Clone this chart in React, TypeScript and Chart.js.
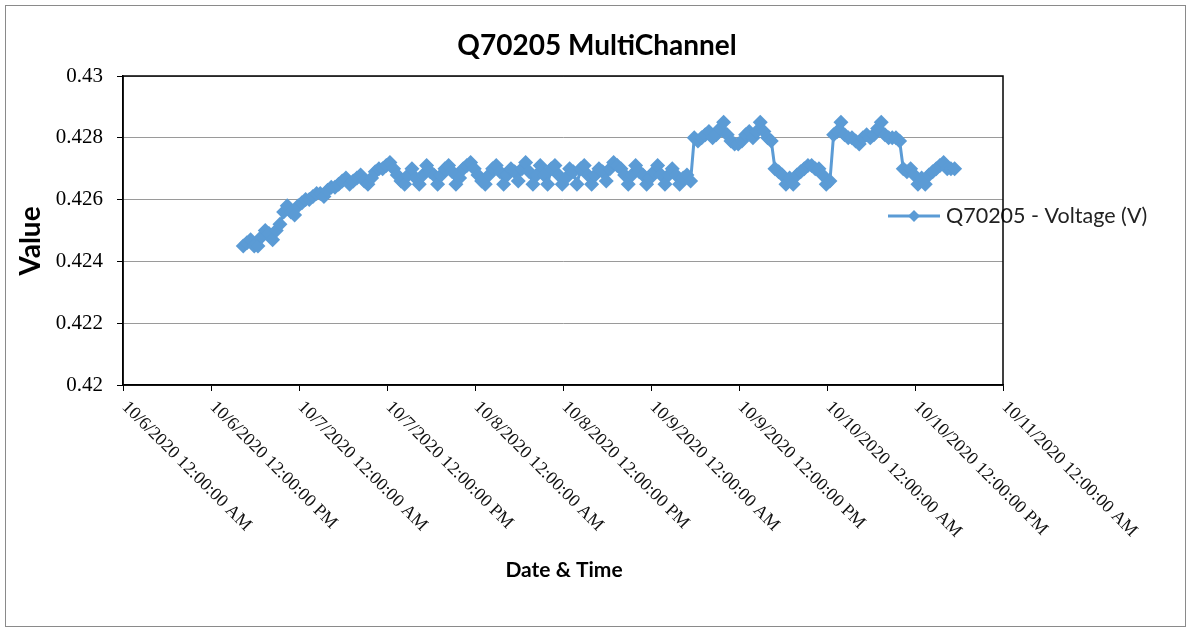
import React, { useEffect, useRef } from "react";
import { Chart, registerables } from "chart.js";

Chart.register(...registerables);

const chartTitle = "Q70205 MultiChannel";
const seriesName = "Q70205 - Voltage (V)";
const xAxisTitle = "Date & Time";
const yAxisTitle = "Value";

// x ticks: hours since 10/6/2020 12:00:00 AM, every 12 h
const xTickLabels = [
  "10/6/2020 12:00:00 AM",
  "10/6/2020 12:00:00 PM",
  "10/7/2020 12:00:00 AM",
  "10/7/2020 12:00:00 PM",
  "10/8/2020 12:00:00 AM",
  "10/8/2020 12:00:00 PM",
  "10/9/2020 12:00:00 AM",
  "10/9/2020 12:00:00 PM",
  "10/10/2020 12:00:00 AM",
  "10/10/2020 12:00:00 PM",
  "10/11/2020 12:00:00 AM",
];
const yTickLabels = ["0.42", "0.422", "0.424", "0.426", "0.428", "0.43"];

// first reading (hours after 10/6 00:00) and reading interval (hours)
const firstHour = 16.4;
const stepHours = 0.5;

const riseValues = [
  0.4245, 0.4246, 0.4247, 0.4245, 0.4245, 0.4248, 0.425, 0.4249, 0.4247, 0.425,
  0.4252, 0.4256, 0.4258, 0.4256, 0.4255, 0.4258, 0.4259, 0.426, 0.426, 0.4261,
  0.4262, 0.4262, 0.4261, 0.4263, 0.4264, 0.4264, 0.4265, 0.4266, 0.4267, 0.4265,
  0.4266, 0.4267, 0.4268, 0.4266, 0.4265, 0.4267, 0.4269, 0.427, 0.427, 0.4271,
  0.4272, 0.427, 0.4268, 0.4266, 0.4265,
];
const plateauValues = [
  0.4268, 0.427, 0.4267, 0.4265, 0.4268, 0.4271, 0.4269, 0.4268, 0.4265, 0.4268,
  0.427, 0.4271, 0.4269, 0.4265, 0.4267, 0.427, 0.4271, 0.4272, 0.427, 0.4268,
  0.4266, 0.4265, 0.4268, 0.427, 0.4271, 0.4269, 0.4265, 0.4268, 0.427, 0.4269,
  0.4266, 0.427, 0.4272, 0.4269, 0.4265, 0.4268, 0.4271, 0.4268, 0.4265, 0.427,
  0.4271, 0.4268, 0.4265, 0.4267, 0.427, 0.4269, 0.4265, 0.427, 0.4271, 0.4268,
  0.4265, 0.4268, 0.427, 0.4269, 0.4266, 0.427, 0.4272, 0.4271, 0.427, 0.4268,
  0.4265, 0.4268, 0.4271, 0.4269, 0.4268, 0.4265, 0.4267, 0.4269, 0.4271, 0.4268,
  0.4265, 0.4268, 0.427, 0.4268, 0.4265, 0.4267, 0.4268, 0.4266,
];
const highValues1 = [
  0.428, 0.4279, 0.428, 0.4281, 0.4282, 0.428, 0.4281, 0.4283, 0.4285, 0.4281,
  0.4279, 0.4278, 0.4278, 0.4279, 0.4281, 0.4282, 0.428, 0.4282, 0.4285, 0.4282,
  0.428, 0.4279,
];
const lowValues1 = [
  0.427, 0.4269, 0.4268, 0.4265, 0.4267, 0.4265, 0.4268, 0.4269, 0.427, 0.4271,
  0.4271, 0.427, 0.427, 0.4268, 0.4265, 0.4266,
];
const highValues2 = [
  0.4281, 0.4282, 0.4285, 0.4281, 0.428, 0.428, 0.4279, 0.4278, 0.428, 0.4281,
  0.428, 0.4281, 0.4283, 0.4285, 0.4281, 0.428, 0.428, 0.428, 0.4279,
];
const lowValues2 = [
  0.427, 0.4269, 0.427, 0.4268, 0.4265, 0.4267, 0.4265, 0.4268, 0.4269, 0.427,
  0.4271, 0.4272, 0.427, 0.427, 0.427,
];

const voltage = [
  ...riseValues,
  ...plateauValues,
  ...highValues1,
  ...lowValues1,
  ...highValues2,
  ...lowValues2,
];

const LINE_COLOR = "#5B9BD5";

const decorPlugin = {
  id: "decor",
  afterDraw(chart: any) {
    const { ctx, chartArea } = chart;
    const xs = chart.scales.x;
    ctx.save();

    // legend
    const ly = 216;
    ctx.strokeStyle = LINE_COLOR;
    ctx.lineWidth = 3;
    ctx.beginPath();
    ctx.moveTo(888, ly);
    ctx.lineTo(940, ly);
    ctx.stroke();
    ctx.fillStyle = LINE_COLOR;
    ctx.beginPath();
    ctx.moveTo(914, ly - 6);
    ctx.lineTo(920, ly);
    ctx.lineTo(914, ly + 6);
    ctx.lineTo(908, ly);
    ctx.closePath();
    ctx.fill();
    ctx.fillStyle = "#222";
    ctx.font = "21.5px Lato";
    ctx.textAlign = "left";
    ctx.textBaseline = "middle";
    ctx.fillText(seriesName, 946, ly);

    // plot-area frame
    ctx.strokeStyle = "#000";
    ctx.lineWidth = 1.5;
    ctx.strokeRect(
      chartArea.left,
      chartArea.top,
      chartArea.right - chartArea.left,
      chartArea.bottom - chartArea.top
    );

    // rotated x tick labels
    ctx.fillStyle = "#111";
    ctx.font = "18px 'Liberation Serif'";
    ctx.textAlign = "left";
    ctx.textBaseline = "top";
    xs.ticks.forEach((t: any, i: number) => {
      const px = xs.getPixelForValue(t.value);
      ctx.save();
      ctx.translate(px + 8, chartArea.bottom + 13);
      ctx.rotate(Math.PI / 4);
      ctx.fillText(xTickLabels[i] ?? "", 0, 0);
      ctx.restore();
    });

    // titles
    ctx.fillStyle = "#000";
    ctx.textAlign = "center";
    ctx.textBaseline = "middle";
    ctx.font = "bold 28px Lato";
    ctx.fillText(chartTitle, 597, 46);
    ctx.font = "bold 21px Lato";
    ctx.fillText(xAxisTitle, 564, 570);
    ctx.save();
    ctx.translate(31, 241);
    ctx.rotate(-Math.PI / 2);
    ctx.font = "bold 28px Lato";
    ctx.fillText(yAxisTitle, 0, 0);
    ctx.restore();

    // outer border
    ctx.strokeStyle = "#8a8a8a";
    ctx.lineWidth = 1;
    ctx.strokeRect(5.5, 5.5, 1180, 621);
    ctx.restore();
  },
};

export default function App() {
  const ref = useRef<HTMLCanvasElement | null>(null);
  useEffect(() => {
    if (!ref.current) return;
    const points = voltage.map((v, i) => ({ x: firstHour + i * stepHours, y: v }));
    const chart = new Chart(ref.current, {
      type: "line",
      data: {
        datasets: [
          {
            label: seriesName,
            data: points,
            borderColor: LINE_COLOR,
            backgroundColor: LINE_COLOR,
            borderWidth: 3,
            pointStyle: "rectRot",
            pointRadius: 7.5,
            pointBorderWidth: 0,
            pointBackgroundColor: LINE_COLOR,
            tension: 0,
          },
        ],
      },
      options: {
        animation: false,
        responsive: false,
        layout: { padding: { left: 0, top: 76, right: 187, bottom: 0 } },
        plugins: { legend: { display: false }, title: { display: false }, tooltip: { enabled: false } },
        scales: {
          x: {
            type: "linear",
            min: 0,
            max: 120,
            afterFit: (s: any) => {
              s.height = 245;
            },
            afterBuildTicks: (s: any) => {
              s.ticks = xTickLabels.map((_, i) => ({ value: i * 12 }));
            },
            ticks: { display: false },
            grid: { drawOnChartArea: false, drawTicks: true, tickLength: 6, tickColor: "#000", color: "#000" },
            border: { display: true, color: "#000", width: 1.5 },
          },
          y: {
            min: 0.42,
            max: 0.43,
            afterFit: (s: any) => {
              s.width = 123;
            },
            afterBuildTicks: (s: any) => {
              s.ticks = yTickLabels.map((l) => ({ value: parseFloat(l) }));
            },
            ticks: {
              color: "#000",
              font: { family: "'Liberation Serif'", size: 21 },
              padding: 14,
              callback: (_v: any, i: number) => yTickLabels[i],
            },
            grid: { color: "#9a9a9a", lineWidth: 1, tickLength: 6, tickColor: "#000" },
            border: { display: true, color: "#000", width: 1.5 },
          },
        },
      },
      plugins: [decorPlugin],
    });
    return () => chart.destroy();
  }, []);
  return (
    <div style={{ position: "fixed", left: 0, top: 0, width: 1190, height: 630, background: "#fff" }}>
      <canvas ref={ref} width={1190} height={630} />
    </div>
  );
}
